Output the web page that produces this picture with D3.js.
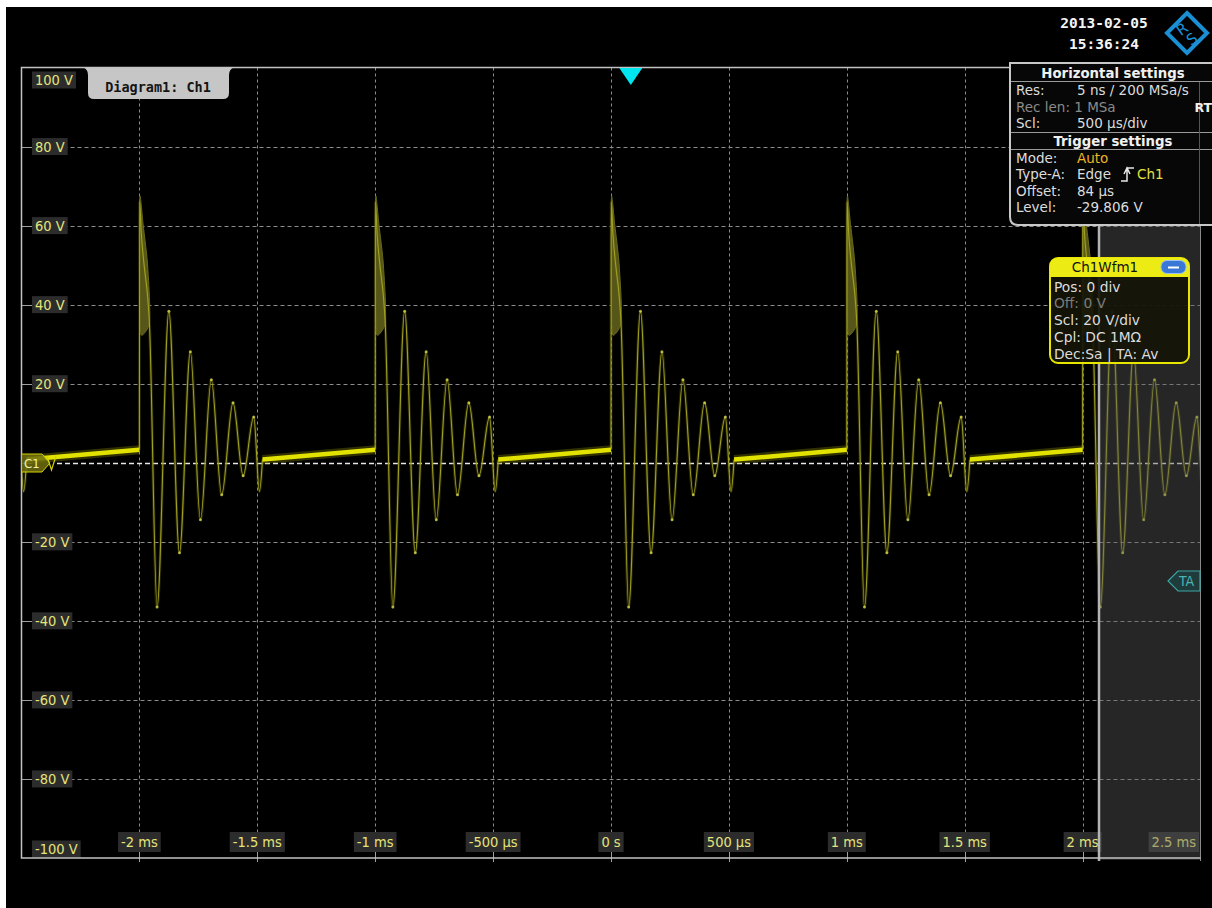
<!DOCTYPE html>
<html>
<head>
<meta charset="utf-8">
<script src="https://cdnjs.cloudflare.com/ajax/libs/d3/7.8.4/d3.min.js"></script>
<style>
html, body { margin: 0; padding: 0; background: #fff; }
svg { display: block; }
</style>
</head>
<body>
<div id="scope"></div>
<script>
// axis ticks (time in ms, voltage in V)
const timeTicks  = [-2, -1.5, -1, -0.5, 0, 0.5, 1, 1.5, 2, 2.5];
const timeLabels = ["-2 ms", "-1.5 ms", "-1 ms", "-500 µs", "0 s", "500 µs", "1 ms", "1.5 ms", "2 ms", "2.5 ms"];
const voltTicks  = [100, 80, 60, 40, 20, 0, -20, -40, -60, -80, -100];
const voltLabels = ["100 V", "80 V", "60 V", "40 V", "20 V", "", "-20 V", "-40 V", "-60 V", "-80 V", "-100 V"];

// trigger times of each ringing burst (ms)
const burstStarts = [-3, -2, -1, 0, 1, 2];
// one burst: offset after trigger (µs) and voltage (V)
const burstTime = [0, 1, 8, 20, 35, 42, 75, 125, 170, 216, 259, 305, 349, 397, 440, 485, 509, 522];
const burstVolt = [3.3, 66, 58, 50, 42, 36, -36.5, 38.3, -22.8, 28.1, -14.4, 21, -8.1, 15.2, -3.3, 11.6, -7.3, 0.8];
// smeared top of the first spike (outline)
const spikeTime = [0, 3, 16, 33, 43, 41, 7, 1];
const spikeVolt = [61, 67.5, 60.2, 51.3, 41.2, 34.9, 32.4, 41.2];
// slow drift of the baseline between bursts
const baseTime = [522, 1000];
const baseVolt = [0.8, 3.3];

const trigOffset = 0.084; // ms

(function () {
  const W = 1212, H = 908;
  const plot = {left: 21.5, right: 1200.5, top: 67.5, bottom: 858};
  const narrow = "'Liberation Sans Narrow', 'DejaVu Sans Condensed', 'Arial Narrow', sans-serif";
  const ui = "'DejaVu Sans', Verdana, sans-serif";

  const svg = d3.select("#scope").append("svg")
      .attr("width", W).attr("height", H);

  svg.append("rect").attr("width", W).attr("height", H).attr("fill", "#fff");
  svg.append("rect").attr("x", 6).attr("y", 7).attr("width", W - 6).attr("height", H - 7).attr("fill", "#000");

  const x = d3.scaleLinear().domain([-2.5, 2.5]).range([plot.left, plot.right]);
  const y = d3.scaleLinear().domain([-100, 100]).range([plot.bottom, plot.top]);

  // grid
  const grid = svg.append("g");
  grid.selectAll("line.h")
    .data(voltTicks.filter(v => v !== 0 && Math.abs(v) !== 100))
    .join("line")
      .attr("x1", plot.left).attr("x2", plot.right)
      .attr("y1", d => Math.round(y(d)) + 0.5).attr("y2", d => Math.round(y(d)) + 0.5)
      .attr("stroke", "#8c8c8c").attr("stroke-width", 1)
      .attr("stroke-dasharray", "4,3");
  grid.selectAll("line.v")
    .data(timeTicks.filter(t => t < 2.5))
    .join("line")
      .attr("x1", d => Math.round(x(d)) + 0.5).attr("x2", d => Math.round(x(d)) + 0.5)
      .attr("y1", plot.top).attr("y2", plot.bottom)
      .attr("stroke", "#8c8c8c").attr("stroke-width", 1)
      .attr("stroke-dasharray", "3,3");

  // ticks on the frame
  grid.selectAll("line.yt")
    .data(voltTicks.filter(v => Math.abs(v) !== 100))
    .join("line")
      .attr("x1", plot.left).attr("x2", plot.left + 11)
      .attr("y1", d => Math.round(y(d)) + 0.5).attr("y2", d => Math.round(y(d)) + 0.5)
      .attr("stroke", "#a0a0a0");
  grid.selectAll("line.xt")
    .data(timeTicks.filter(t => t < 2.5))
    .join("line")
      .attr("x1", d => Math.round(x(d)) + 0.5).attr("x2", d => Math.round(x(d)) + 0.5)
      .attr("y1", plot.bottom - 6).attr("y2", plot.bottom + 4)
      .attr("stroke", "#a0a0a0");

  // zero line
  svg.append("line")
    .attr("x1", 57).attr("x2", plot.right)
    .attr("y1", Math.round(y(0)) + 0.5).attr("y2", Math.round(y(0)) + 0.5)
    .attr("stroke", "#e8e8e8").attr("stroke-width", 1.3)
    .attr("stroke-dasharray", "5,3");

  // trace
  svg.append("clipPath").attr("id", "plotClip")
    .append("rect")
      .attr("x", plot.left).attr("y", plot.top)
      .attr("width", plot.right - plot.left).attr("height", plot.bottom - plot.top);
  const trace = svg.append("g").attr("clip-path", "url(#plotClip)");

  const ring = d3.line().x(d => x(d[0])).y(d => y(d[1])).curve(d3.curveMonotoneX);
  const flat = d3.line().x(d => x(d[0])).y(d => y(d[1]));
  const blob = d3.line().x(d => x(d[0])).y(d => y(d[1])).curve(d3.curveCardinalClosed.tension(0.3));

  const bursts = burstStarts.map(s => burstTime.map((dt, i) => [s + dt / 1000, burstVolt[i]]));
  const spikes = burstStarts.map(s => spikeTime.map((dt, i) => [s + dt / 1000, spikeVolt[i]]));
  const bases  = burstStarts.map(s => baseTime.map((dt, i) => [s + dt / 1000, baseVolt[i]]));

  trace.selectAll("path.spike").data(spikes).join("path")
    .attr("d", blob).attr("fill", "#56561a").attr("stroke", "#6a6a1c").attr("stroke-width", 1);

  trace.selectAll("path.glow").data(bursts).join("path")
    .attr("d", ring).attr("fill", "none")
    .attr("stroke", "#6a6a08").attr("stroke-width", 3).attr("stroke-opacity", 0.35);
  trace.selectAll("path.ring").data(bursts).join("path")
    .attr("d", ring).attr("fill", "none")
    .attr("stroke", "#a0a024").attr("stroke-width", 1.1);

  trace.selectAll("g.peaks").data(bursts).join("g")
    .selectAll("circle").data(d => d.slice(6, 16)).join("circle")
      .attr("cx", d => x(d[0])).attr("cy", d => y(d[1])).attr("r", 1.5)
      .attr("fill", "#dede50").attr("fill-opacity", 0.75);

  trace.selectAll("path.baseglow").data(bases).join("path")
    .attr("d", flat).attr("fill", "none")
    .attr("stroke", "#8a8a00").attr("stroke-width", 9).attr("stroke-opacity", 0.35);
  trace.selectAll("path.base").data(bases).join("path")
    .attr("d", flat).attr("fill", "none")
    .attr("stroke", "#e2e200").attr("stroke-width", 4.5);

  // y labels
  const yl = svg.append("g").attr("font-family", narrow).attr("font-size", 14.5);
  voltTicks.forEach((v, i) => {
    if (!voltLabels[i]) return;
    const cy = v === 100 ? 80 : v === -100 ? 849 : y(v);
    const t = yl.append("text").attr("x", 35).attr("y", cy).attr("dy", "0.35em")
      .attr("fill", "#e4e47a").text(voltLabels[i]);
    const w = t.node().getComputedTextLength();
    yl.insert("rect", "text").attr("x", 32).attr("y", cy - 8.5).attr("width", w + 6).attr("height", 17)
      .attr("fill", "#2c2c2c");
  });

  // x labels
  const xl = svg.append("g").attr("font-family", narrow).attr("font-size", 14.5);
  timeTicks.forEach((t, i) => {
    const last = t === 2.5;
    const cx = last ? 1196 : x(t);
    const tx = xl.append("text").attr("x", cx).attr("y", 842).attr("dy", "0.35em")
      .attr("text-anchor", last ? "end" : "middle")
      .attr("fill", "#e4e47a").text(timeLabels[i]);
    const w = tx.node().getComputedTextLength();
    xl.insert("rect", "text").attr("x", last ? cx - w - 3 : cx - w / 2 - 3).attr("y", 832)
      .attr("width", w + 6).attr("height", 20).attr("fill", "#2c2c2c");
  });

  // off-screen region on the right
  svg.append("rect").attr("x", 1098).attr("y", plot.top).attr("width", plot.right - 1098)
    .attr("height", plot.bottom - plot.top + 2).attr("fill", "#5a5a5a").attr("fill-opacity", 0.42);
  svg.append("line").attr("x1", 1099).attr("x2", 1099).attr("y1", plot.top).attr("y2", plot.bottom + 3)
    .attr("stroke", "#b4b4b4").attr("stroke-width", 2.5);
  svg.append("line").attr("x1", plot.right).attr("x2", plot.right).attr("y1", plot.top).attr("y2", plot.bottom + 3)
    .attr("stroke", "#8a8a8a").attr("stroke-width", 1);

  // frame
  svg.append("path")
    .attr("d", `M1010,${plot.top} H${plot.left} V${plot.bottom} H${plot.right}`)
    .attr("fill", "none").attr("stroke", "#c2c2c2").attr("stroke-width", 1.5);

  // trigger position marker
  const tp = x(trigOffset);
  svg.append("path").attr("d", `M${tp - 11.5},68 L${tp + 11.5},68 L${tp},85 Z`).attr("fill", "#00e6f0");

  // diagram tab
  svg.append("path")
    .attr("d", "M83,67.5 L234,67.5 Q229,69 229,75 L229,93 Q229,99 223,99 L94,99 Q88,99 88,93 L88,75 Q88,69 83,67.5 Z")
    .attr("fill", "#c6c6c6");
  svg.append("text").attr("x", 158).attr("y", 87).attr("dy", "0.35em").attr("text-anchor", "middle")
    .attr("font-family", "'DejaVu Sans Mono', monospace").attr("font-weight", "bold").attr("font-size", 13.5)
    .attr("fill", "#141414").text("Diagram1: Ch1");

  // channel offset marker
  svg.append("path").attr("d", "M21.5,454 H42 L50,463 L42,472 H21.5 Z")
    .attr("fill", "#6e6e10").attr("fill-opacity", 0.85).attr("stroke", "#d4d400").attr("stroke-width", 1);
  svg.append("path").attr("d", "M47,456 L51.5,470 L56,456").attr("fill", "none").attr("stroke", "#d4d400").attr("stroke-width", 1.2);
  svg.append("text").attr("x", 24).attr("y", 463).attr("dy", "0.36em").attr("font-family", narrow)
    .attr("font-size", 13).attr("fill", "#f2f2b0").text("C1");

  // trigger level marker
  svg.append("path").attr("d", "M1168,581 L1178,571 H1200 V591 H1178 Z")
    .attr("fill", "#1c4a4a").attr("fill-opacity", 0.6).attr("stroke", "#3aa6a6").attr("stroke-width", 1.2);
  svg.append("text").attr("x", 1179).attr("y", 581).attr("dy", "0.36em").attr("font-family", narrow)
    .attr("font-size", 14).attr("fill", "#4ab4b4").text("TA");

  // settings panel
  const sp = svg.append("g").attr("font-family", ui).attr("font-size", 13.5);
  sp.append("path").attr("d", "M1212,63 H1010 V217 Q1010,225 1018,225 H1212")
    .attr("fill", "#070707").attr("stroke", "#c8c8c8").attr("stroke-width", 2);
  sp.append("line").attr("x1", 1011).attr("x2", 1212).attr("y1", 81.5).attr("y2", 81.5).attr("stroke", "#9a9a9a");
  sp.append("line").attr("x1", 1011).attr("x2", 1212).attr("y1", 132.5).attr("y2", 132.5).attr("stroke", "#9a9a9a");
  sp.append("line").attr("x1", 1011).attr("x2", 1212).attr("y1", 149.5).attr("y2", 149.5).attr("stroke", "#9a9a9a");
  sp.append("line").attr("x1", 1199.5).attr("x2", 1199.5).attr("y1", 82).attr("y2", 224).attr("stroke", "#555");

  const head = (txt, cy) => sp.append("text").attr("x", 1113).attr("y", cy).attr("dy", "0.36em")
    .attr("text-anchor", "middle").attr("font-weight", "bold").attr("font-size", 13.3)
    .attr("fill", "#f0f0f0").text(txt);
  const row = (lab, val, cy, col, vcol) => {
    sp.append("text").attr("x", 1016).attr("y", cy).attr("dy", "0.36em").attr("fill", col).text(lab);
    if (val) sp.append("text").attr("x", 1077).attr("y", cy).attr("dy", "0.36em").attr("fill", vcol || col).text(val);
  };
  head("Horizontal settings", 73);
  row("Res:", "5 ns / 200 MSa/s", 90, "#dcdcdc");
  row("Rec len: 1 MSa", "", 107, "#8a8a8a");
  row("Scl:", "500 µs/div", 123, "#dcdcdc");
  head("Trigger settings", 141);
  row("Mode:", "Auto", 158, "#dcdcdc", "#f0b428");
  row("Type-A:", "Edge", 174, "#dcdcdc");
  row("Offset:", "84 µs", 191, "#dcdcdc");
  row("Level:", "-29.806 V", 207, "#dcdcdc");
  sp.append("text").attr("x", 1212).attr("y", 107).attr("dy", "0.36em").attr("text-anchor", "end")
    .attr("font-weight", "bold").attr("font-size", 12.5).attr("fill", "#f0f0f0").text("RT");
  sp.append("path").attr("d", "M1121,181 H1127 V168 H1134 M1124,174 L1127,168 L1130,174")
    .attr("fill", "none").attr("stroke", "#e8e8e8").attr("stroke-width", 1.5);
  sp.append("text").attr("x", 1137).attr("y", 174).attr("dy", "0.36em").attr("fill", "#e6e040").text("Ch1");

  // waveform info box
  const wb = svg.append("g").attr("font-family", ui).attr("font-size", 13.8);
  wb.append("rect").attr("x", 1050).attr("y", 258).attr("width", 139).attr("height", 105).attr("rx", 8)
    .attr("fill", "#141408").attr("fill-opacity", 0.92).attr("stroke", "#e6e600").attr("stroke-width", 2);
  wb.append("path").attr("d", "M1050,277 V266 Q1050,258 1058,258 H1181 Q1189,258 1189,266 V277 Z")
    .attr("fill", "#ecec14");
  wb.append("text").attr("x", 1105).attr("y", 267.5).attr("dy", "0.36em").attr("text-anchor", "middle")
    .attr("font-size", 13.5).attr("fill", "#111").text("Ch1Wfm1");
  wb.append("rect").attr("x", 1161).attr("y", 260.5).attr("width", 25).attr("height", 13).attr("rx", 6)
    .attr("fill", "#3a78d8").attr("stroke", "#9cc0f4").attr("stroke-width", 1);
  wb.append("line").attr("x1", 1168).attr("x2", 1179).attr("y1", 267.5).attr("y2", 267.5)
    .attr("stroke", "#fff").attr("stroke-width", 2);
  const wrows = [["Pos: 0 div", 287, "#dcdcdc"], ["Off: 0 V", 303, "#7c7c7c"], ["Scl: 20 V/div", 320, "#dcdcdc"],
                 ["Cpl: DC 1MΩ", 337, "#dcdcdc"], ["Dec:Sa | TA: Av", 354, "#dcdcdc"]];
  wrows.forEach(r => wb.append("text").attr("x", 1054).attr("y", r[1]).attr("dy", "0.36em")
    .attr("fill", r[2]).text(r[0]));

  // date and logo
  const dt = svg.append("g").attr("font-family", "'DejaVu Sans Mono', monospace").attr("font-weight", "bold")
    .attr("font-size", 14.5).attr("fill", "#f4f4f4").attr("text-anchor", "middle");
  dt.append("text").attr("x", 1104).attr("y", 23).attr("dy", "0.36em").text("2013-02-05");
  dt.append("text").attr("x", 1104).attr("y", 44).attr("dy", "0.36em").text("15:36:24");
  const lg = svg.append("g").attr("transform", "translate(1187,33)");
  lg.append("path").attr("d", "M0,-20 L20,0 L0,20 L-20,0 Z").attr("fill", "#000")
    .attr("stroke", "#1a8fd4").attr("stroke-width", 4);
  lg.append("text").attr("transform", "translate(-5,-4) rotate(-35)").attr("text-anchor", "middle").attr("dy", "0.35em")
    .attr("font-family", ui).attr("font-size", 15).attr("fill", "#1a8fd4").text("R");
  lg.append("text").attr("transform", "translate(5,6) rotate(-35)").attr("text-anchor", "middle").attr("dy", "0.35em")
    .attr("font-family", ui).attr("font-size", 15).attr("fill", "#1a8fd4").text("S");
})();
</script>
</body>
</html>
